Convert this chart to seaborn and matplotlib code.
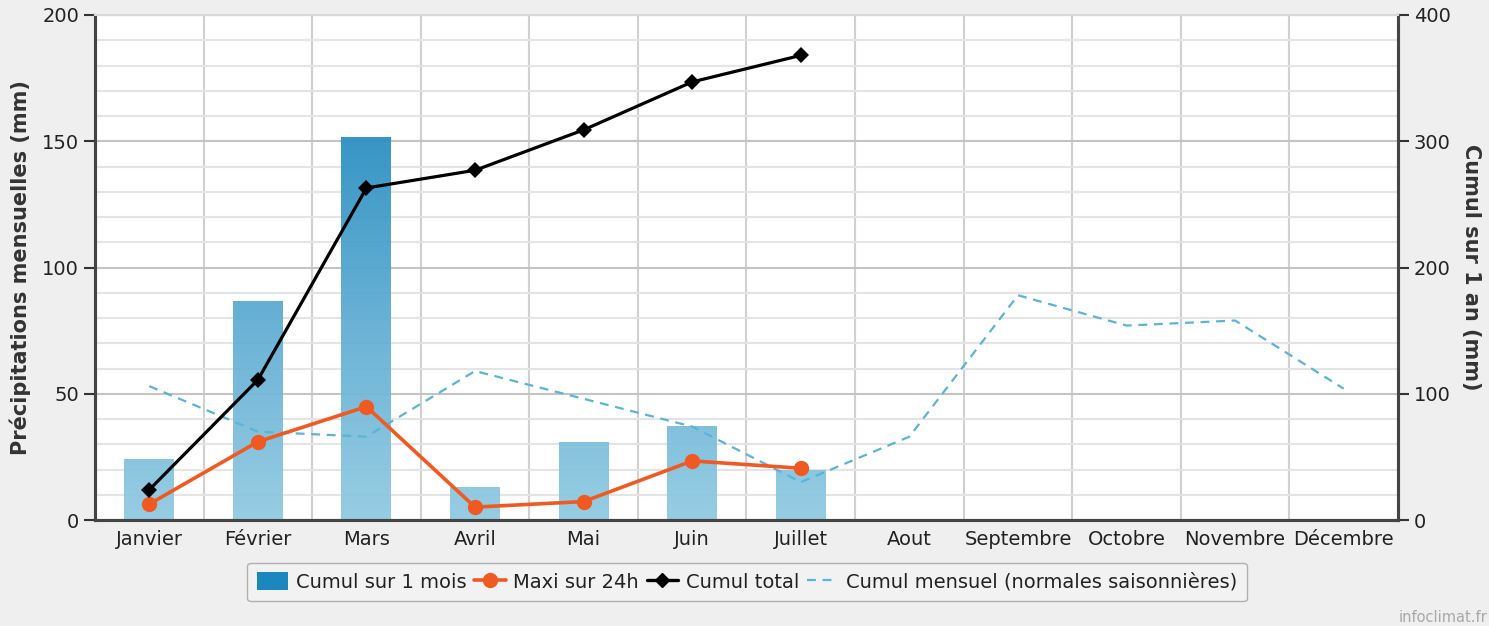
import matplotlib
matplotlib.use("Agg")
import matplotlib.pyplot as plt
from matplotlib.colors import LinearSegmentedColormap
from matplotlib.patches import Patch
from matplotlib.lines import Line2D
from matplotlib.ticker import MultipleLocator
import numpy as np
import pandas as pd
import seaborn as sns

# Données
mois = ["Janvier", "Février", "Mars", "Avril", "Mai", "Juin", "Juillet",
        "Aout", "Septembre", "Octobre", "Novembre", "Décembre"]
cumul_mois = [23.8, 86.5, 151.4, 12.8, 30.6, 37.2, 19.8]
maxi_24h = [6.3, 31.0, 44.9, 5.1, 7.3, 23.4, 20.5]
cumul_total = [24, 111, 263, 277, 309, 347, 368]
normales = [53, 35, 33, 59, 48, 37, 15, 33, 89, 77, 79, 52]

sns.set_style("white")
plt.rcParams["font.family"] = ["DejaVu Sans"]

fig = plt.figure(figsize=(14.89, 6.26), dpi=100, facecolor="#efefef")
ax = fig.add_axes([95 / 1489, 1 - 520 / 626, 1303 / 1489, 505 / 626])
ax.set_facecolor("white")

df_bars = pd.DataFrame({"mois": mois[:len(cumul_mois)], "pluie": cumul_mois})
sns.barplot(data=df_bars, x="mois", y="pluie", order=mois, width=0.46,
            color="#5aaad2", ax=ax, zorder=2)

# dégradé dans les barres
cmap = LinearSegmentedColormap.from_list("pluie", ["#92cbe2", "#62aed4", "#2a8fc1"])
for bar in ax.patches:
    x0 = bar.get_x()
    w = bar.get_width()
    h = bar.get_height()
    if np.isnan(h) or h <= 0:
        continue
    grad = np.linspace(0, h, 200)[:, None]
    ax.imshow(grad, extent=[x0, x0 + w, 0, h], origin="lower", aspect="auto",
              cmap=cmap, vmin=0, vmax=155, zorder=2, alpha=0.95)
    bar.set_alpha(0)

pos = np.arange(len(mois))
sns.lineplot(x=pos, y=normales, ax=ax, color="#5ab4d8", lw=1.6,
             dashes=False, zorder=3).lines[-1].set_dashes([4, 3])
sns.lineplot(x=pos[:len(maxi_24h)], y=maxi_24h, ax=ax, color="#f05a22", lw=2.6,
             marker="o", markersize=11, markeredgewidth=0, zorder=5)

ax.set_xlim(-0.5, len(mois) - 0.5)
ax.set_ylim(0, 200)
ax.set_xticks(pos)
ax.set_xticklabels(mois, fontsize=14, color="#222222")
ax.set_xticks(np.arange(0.5, len(mois) - 0.5, 1), minor=True)
ax.tick_params(axis="x", which="major", length=0, pad=7)
ax.tick_params(axis="x", which="minor", length=8, width=2, color="#333333", direction="out")
ax.yaxis.set_major_locator(MultipleLocator(50))
ax.yaxis.set_minor_locator(MultipleLocator(10))
ax.tick_params(axis="y", which="major", length=8, width=1.5, color="#333333",
               labelsize=14, labelcolor="#222222")
ax.tick_params(axis="y", which="minor", length=0)
ax.grid(True, which="major", axis="y", color="#c4c4c4", lw=1.5, zorder=0)
ax.grid(True, which="minor", axis="y", color="#e4e4e4", lw=1.5, zorder=0)
ax.grid(True, which="minor", axis="x", color="#d0d0d0", lw=1.5, zorder=0)
ax.set_axisbelow(True)
ax.set_xlabel("")
ax.set_ylabel("Précipitations mensuelles (mm)", fontsize=15, fontweight="bold",
              color="#333333", labelpad=8)

ax2 = ax.twinx()
sns.lineplot(x=pos[:len(cumul_total)], y=cumul_total, ax=ax2, color="black", lw=2.3,
             marker="D", markersize=8, markeredgewidth=0, zorder=6)
ax2.set_ylim(0, 400)
ax2.set_yticks([0, 100, 200, 300, 400])
ax2.tick_params(axis="y", length=8, width=1.5, color="#333333", labelsize=14,
                labelcolor="#222222")
ax2.set_ylabel("Cumul sur 1 an (mm)", fontsize=15, fontweight="bold", color="#333333",
               rotation=270, labelpad=22)
ax2.grid(False)

for a in (ax, ax2):
    for side in ("left", "right", "bottom"):
        a.spines[side].set_color("#444444")
        a.spines[side].set_linewidth(2.2)
    a.spines["top"].set_color("#d8d8d8")
    a.spines["top"].set_linewidth(1.5)

handles = [
    Patch(facecolor="#1a87bf", edgecolor="none"),
    Line2D([], [], color="#f05a22", lw=2.6, marker="o", markersize=10),
    Line2D([], [], color="black", lw=2.4, marker="D", markersize=7),
    Line2D([], [], color="#5ab4d8", lw=1.6, dashes=[4, 3]),
]
labels = ["Cumul sur 1 mois", "Maxi sur 24h", "Cumul total",
          "Cumul mensuel (normales saisonnières)"]
leg = fig.legend(handles, labels, loc="center", bbox_to_anchor=(747 / 1489, 1 - 582 / 626),
                 ncol=4, fontsize=14, frameon=True, fancybox=True, handlelength=1.6,
                 handleheight=1.0, columnspacing=0.4, handletextpad=0.4, borderpad=0.5)
leg.get_frame().set_edgecolor("#a0a0a0")
leg.get_frame().set_facecolor("#f4f4f4")
for t in leg.get_texts():
    t.set_color("#222222")

fig.text(1487 / 1489, 1 - 617 / 626, "infoclimat.fr", ha="right", va="center",
         fontsize=10.5, color="#a8a8a8")

fig.savefig("out.png", dpi=100, facecolor=fig.get_facecolor())
